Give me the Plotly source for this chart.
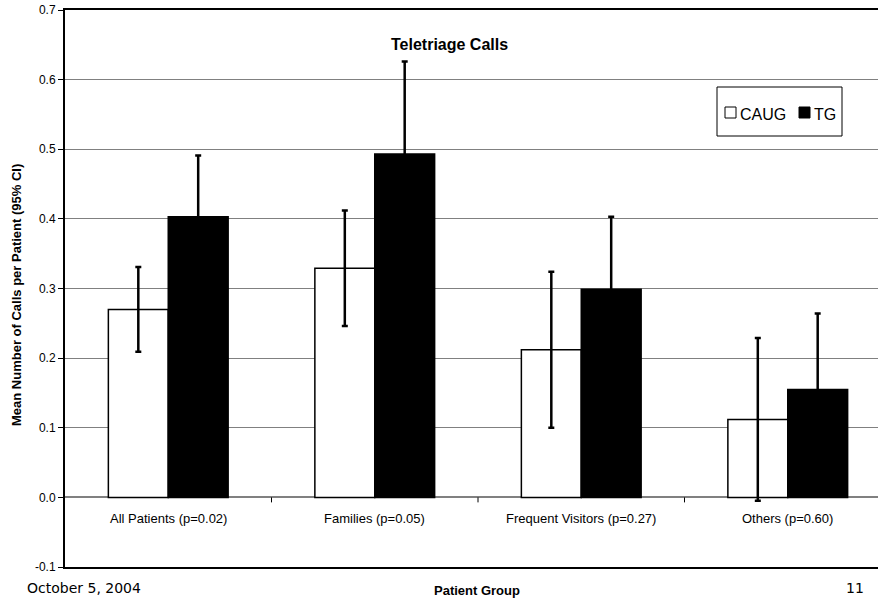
import plotly.graph_objects as go

# Teletriage calls per patient, by patient group (mean with 95% CI half-width)
groups = ["All Patients (p=0.02)", "Families (p=0.05)",
          "Frequent Visitors (p=0.27)", "Others (p=0.60)"]
caug_mean = [0.270, 0.329, 0.212, 0.112]
caug_ci = [0.061, 0.083, 0.112, 0.117]
tg_mean = [0.403, 0.493, 0.299, 0.155]
tg_ci = [0.088, 0.133, 0.104, 0.109]
y_ticks = [-0.1, 0.0, 0.1, 0.2, 0.3, 0.4, 0.5, 0.6, 0.7]
y_tick_text = [f"{v:.1f}" for v in y_ticks]

series = [("CAUG", caug_mean, caug_ci, "white"),
          ("TG", tg_mean, tg_ci, "black")]

pos = list(range(len(groups)))
font_main = "Liberation Sans, Arial, sans-serif"

# plot-area geometry in pixels (used to place page text and the legend)
L, T, B, W = 65, 10, 567, 878
PW, PH = W - L, B - T


def px(xp):
    return (xp - L) / PW


def py(yp):
    return (B - yp) / PH


fig = go.Figure()
for name, mean, ci, fill in series:
    fig.add_trace(go.Bar(
        x=pos, y=mean, name=name,
        marker=dict(color=fill, line=dict(color="black", width=1.5)),
        error_y=dict(type="data", array=ci, color="black", thickness=2.5, width=3),
    ))

# plot area runs past the right edge of the page, as on the slide
x_hi = -0.5 + PW / 206.5

fig.update_layout(
    width=878, height=600,
    margin=dict(l=L, r=0, t=T, b=600 - B, autoexpand=False),
    paper_bgcolor="white", plot_bgcolor="white",
    barmode="group", bargap=0.42, bargroupgap=0.0,
    font=dict(family=font_main, size=12, color="black"),
    showlegend=False,
    xaxis=dict(range=[-0.5, x_hi], showticklabels=False, ticks="", showgrid=False,
               zeroline=False, showline=True, linecolor="black", linewidth=2,
               mirror=True, fixedrange=True),
    yaxis=dict(range=[-0.1, 0.7], tickvals=y_ticks, ticktext=y_tick_text,
               showgrid=True, gridcolor="#808080", gridwidth=1,
               zeroline=True, zerolinecolor="#808080", zerolinewidth=1.5,
               showline=True, linecolor="black", linewidth=2,
               ticks="outside", ticklen=5, tickcolor="black", tickwidth=1,
               tickfont=dict(size=12), fixedrange=True),
)

# category labels just below the zero line
for i, g in enumerate(groups):
    fig.add_annotation(x=i, y=0, xref="x", yref="y", text=g, showarrow=False,
                       yanchor="top", yshift=-12, font=dict(size=13))

# ticks separating the groups on the zero line
for i in range(len(groups) - 1):
    fig.add_shape(type="line", xref="x", yref="y", x0=i + 0.5, x1=i + 0.5,
                  ysizemode="pixel", yanchor=0, y0=0, y1=-5,
                  line=dict(color="black", width=1))

# legend: frame, swatches and names
fig.add_shape(type="rect", xref="paper", yref="paper",
              x0=px(717), x1=px(842), y0=py(136), y1=py(87),
              line=dict(color="black", width=1), fillcolor="white")
swatch_x = [725, 799]
for (name, _, _, fill), sx in zip(series, swatch_x):
    fig.add_shape(type="rect", xref="paper", yref="paper",
                  x0=px(sx), x1=px(sx + 11), y0=py(118), y1=py(107),
                  line=dict(color="black", width=1), fillcolor=fill)
    fig.add_annotation(x=px(sx + 13), y=py(114), xref="paper", yref="paper",
                       text=name, showarrow=False, xanchor="left", yanchor="middle",
                       font=dict(size=16))

fig.add_annotation(x=px(449), y=py(44), xref="paper", yref="paper",
                   text="<b>Teletriage Calls</b>", showarrow=False,
                   font=dict(size=16), xanchor="center", yanchor="middle")

fig.add_annotation(x=px(16), y=py(295), xref="paper", yref="paper",
                   text="<b>Mean Number of Calls per Patient (95% CI)</b>",
                   showarrow=False, textangle=-90, font=dict(size=13),
                   xanchor="center", yanchor="middle")

fig.add_annotation(x=px(477), y=py(590), xref="paper", yref="paper",
                   text="<b>Patient Group</b>", showarrow=False,
                   font=dict(size=13), xanchor="center", yanchor="middle")

fig.add_annotation(x=px(25), y=py(588), xref="paper", yref="paper",
                   text="October 5, 2004", showarrow=False,
                   font=dict(size=14, family="DejaVu Sans, Verdana, sans-serif"),
                   xanchor="left", yanchor="middle")

fig.add_annotation(x=px(866), y=py(588), xref="paper", yref="paper",
                   text="11", showarrow=False,
                   font=dict(size=14, family="DejaVu Sans, Verdana, sans-serif"),
                   xanchor="right", yanchor="middle")

fig.write_html("out.html")
